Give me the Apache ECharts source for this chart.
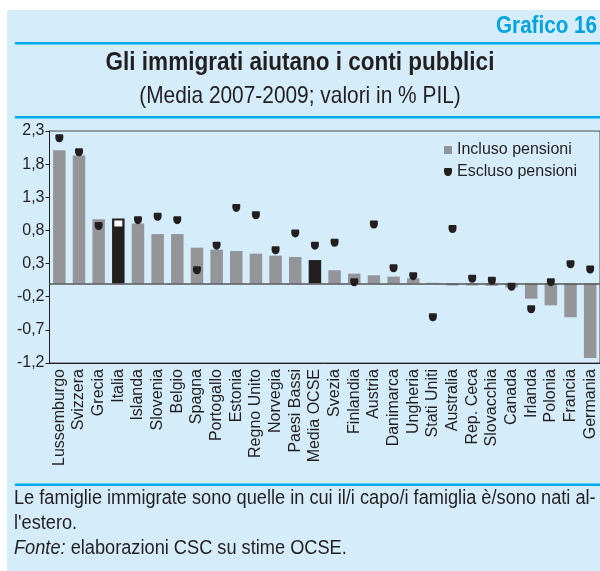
<!DOCTYPE html>
<html>
<head>
<meta charset="utf-8">
<title>Gli immigrati aiutano i conti pubblici</title>
<script src="https://cdn.jsdelivr.net/npm/echarts@6/dist/echarts.min.js"></script>
<style>
  html, body { margin: 0; padding: 0; background: #fff; }
  #chart { width: 600px; height: 571px; }
</style>
</head>
<body>
<div id="chart"></div>
<script>
// paesi, ordinati come nel grafico
var categories = ['Lussemburgo', 'Svizzera', 'Grecia', 'Italia', 'Islanda', 'Slovenia', 'Belgio',
  'Spagna', 'Portogallo', 'Estonia', 'Regno Unito', 'Norvegia', 'Paesi Bassi', 'Media OCSE',
  'Svezia', 'Finlandia', 'Austria', 'Danimarca', 'Ungheria', 'Stati Uniti', 'Australia',
  'Rep. Ceca', 'Slovacchia', 'Canada', 'Irlanda', 'Polonia', 'Francia', 'Germania']
// valori in % PIL
var inclusoPensioni = [2.01, 1.93, 0.97, 0.98, 0.905, 0.745, 0.745, 0.54, 0.51, 0.49, 0.45, 0.42, 0.40, 0.353,
  0.2, 0.148, 0.123, 0.103, 0.078, 0.01, -0.03, -0.03, -0.035, -0.06, -0.23, -0.33, -0.51, -1.125]
var esclusoPensioni = [2.19, 1.98, 0.865, 0.905, 0.955, 1.005, 0.955, 0.2, 0.57, 1.14, 1.03, 0.50, 0.755, 0.57,
  0.615, 0.018, 0.89, 0.23, 0.11, -0.51, 0.82, 0.07, 0.04, -0.05, -0.39, 0.02, 0.29, 0.21]
var evidenziati = ['Italia', 'Media OCSE']
var yMin = -1.2
var yMax = 2.3
var yStep = 0.5

var GRIGIO = '#939598'
var NERO = '#231f20'
var AZZURRO = '#00aeef'
var SFONDO = '#d5edfa'
var SANS = '"Liberation Sans", Arial, sans-serif'
// pallino con la parte alta appiattita
var DOT = 'path://M1,0 L9,0 C10,0 10,2 10,4 C10,8 8,10 5,10 C2,10 0,8 0,4 C0,2 0,0 1,0 Z'

var barData = inclusoPensioni.map(function (v, i) {
  var item = { value: v }
  if (evidenziati.indexOf(categories[i]) >= 0) item.itemStyle = { color: NERO }
  return item
})
var dotData = esclusoPensioni.map(function (v, i) {
  var item = { value: v }
  if (categories[i] === 'Italia') {
    item.symbol = 'rect'
    item.symbolSize = [8, 6]
    item.itemStyle = { color: '#fff' }
  }
  return item
})

// testo "condensato": carattere normale schiacciato in orizzontale
function testo (x, y, str, font, align, sx, extra) {
  var style = { text: str, fill: NERO, font: font, textAlign: align, textVerticalAlign: 'middle' }
  for (var k in extra) style[k] = extra[k]
  return { type: 'text', x: x, y: y, scaleX: sx, style: style }
}

var myChart = echarts.init(document.getElementById('chart'))
myChart.setOption({
  animation: false,
  backgroundColor: '#fff',
  textStyle: { fontFamily: SANS },
  graphic: [
    { type: 'rect', z: -10, shape: { x: 7, y: 10, width: 600, height: 570 }, style: { fill: SFONDO } },
    { type: 'rect', shape: { x: 15, y: 42, width: 590, height: 2.5 }, style: { fill: AZZURRO } },
    { type: 'rect', shape: { x: 15, y: 116, width: 590, height: 2.5 }, style: { fill: AZZURRO } },
    { type: 'rect', shape: { x: 15, y: 483.5, width: 590, height: 2.5 }, style: { fill: AZZURRO } },
    testo(597, 26, 'Grafico 16', 'bold 24px ' + SANS, 'right', 0.86, { fill: '#00a3e0' }),
    testo(300, 63, 'Gli immigrati aiutano i conti pubblici', 'bold 25px ' + SANS, 'center', 0.9),
    testo(300, 96, '(Media 2007-2009; valori in % PIL)', '24px ' + SANS, 'center', 0.87),
    testo(14, 498, 'Le famiglie immigrate sono quelle in cui il/i capo/i famiglia è/sono nati al-', '20px ' + SANS, 'left', 0.91),
    testo(14, 523, "l'estero.", '20px ' + SANS, 'left', 0.91),
    testo(14, 548, '{i|Fonte:} elaborazioni CSC su stime OCSE.', '20px ' + SANS, 'left', 0.91, {
      rich: { i: { fontStyle: 'italic', fontFamily: SANS, fontSize: 20, fill: NERO } }
    })
  ],
  legend: {
    orient: 'vertical',
    left: 439,
    top: 137,
    itemWidth: 8,
    itemHeight: 8,
    itemGap: 6,
    textStyle: { fontSize: 16, color: NERO, fontFamily: SANS },
    data: [
      { name: 'Incluso pensioni', icon: 'rect' },
      { name: 'Escluso pensioni', icon: DOT }
    ]
  },
  grid: {
    left: 49.5,
    top: 131,
    width: 553,
    height: 232,
    show: true,
    borderColor: '#4d4d4d',
    borderWidth: 1,
    backgroundColor: 'transparent'
  },
  xAxis: {
    type: 'category',
    data: categories,
    axisLine: { onZero: false, lineStyle: { color: NERO, width: 1 } },
    axisTick: { show: false },
    axisLabel: { rotate: 90, interval: 0, fontSize: 16, color: NERO, margin: 6 }
  },
  yAxis: {
    type: 'value',
    min: yMin,
    max: yMax,
    interval: yStep,
    splitLine: { show: false },
    axisLine: { show: true, lineStyle: { color: NERO, width: 1 } },
    axisTick: { show: true, length: 4, lineStyle: { color: NERO } },
    axisLabel: {
      fontSize: 16, color: NERO, margin: 5,
      formatter: function (v) { return v.toFixed(1).replace('.', ',') }
    }
  },
  series: [
    {
      name: 'Incluso pensioni',
      type: 'bar',
      data: barData,
      barWidth: 12.5,
      itemStyle: { color: GRIGIO },
      markLine: {
        silent: true,
        symbol: 'none',
        label: { show: false },
        lineStyle: { color: '#555', width: 1.5, type: 'solid' },
        data: [{ yAxis: 0 }]
      }
    },
    {
      name: 'Escluso pensioni',
      type: 'scatter',
      data: dotData,
      symbol: DOT,
      symbolSize: [8, 8],
      itemStyle: { color: NERO, opacity: 1 },
      z: 5
    }
  ]
})
</script>
</body>
</html>
